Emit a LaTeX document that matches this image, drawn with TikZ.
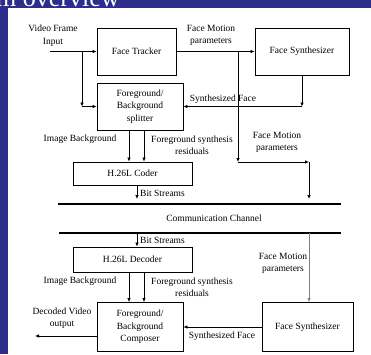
\documentclass[tikz,border=0pt]{standalone}
\usepackage{fontspec}
\setmainfont{Liberation Serif}
\usetikzlibrary{arrows.meta}
\definecolor{slideblue}{RGB}{44,46,140}
\tikzset{
  blk/.style={draw,line width=0.8pt,inner sep=0pt,align=center,font=\fontsize{9.5}{12.5}\selectfont},
  lbl/.style={inner sep=0pt,align=center,font=\fontsize{9.5}{12.5}\selectfont},
  con/.style={->,line width=0.7pt},
}
\begin{document}
\begin{tikzpicture}[x=1pt,y=-1pt,>={Latex[length=4pt,width=3.5pt]}]
	\useasboundingbox (0,0) rectangle (371,354);
	\fill[slideblue] (0,0) rectangle (371,354);
	\fill[white] (8,8) rectangle (371,354);
	\begin{scope}
		\clip (0,0) rectangle (371,8);
		\node[white,font=\fontsize{26}{26}\selectfont,anchor=base west,inner sep=0pt] (title) at (-4,6) {m overview};
	\end{scope}
	% sender side
	\node[blk,minimum width=79pt,minimum height=47pt] (tracker) at (136.5,51.5) {Face Tracker};
	\node[blk,minimum width=94pt,minimum height=47pt] (synthA) at (302,51.5) {Face Synthesizer};
	\node[blk,minimum width=86pt,minimum height=47pt] (splitter) at (140,106.5) {Foreground/\\Background\\splitter};
	\node[blk,minimum width=119pt,minimum height=23pt] (coder) at (132.5,173.5) {H.26L Coder};
	% receiver side
	\node[blk,minimum width=119pt,minimum height=25pt] (decoder) at (132.5,259.5) {H.26L Decoder};
	\node[blk,minimum width=86pt,minimum height=49pt] (composer) at (140,327) {Foreground/\\Background\\Composer};
	\node[blk,minimum width=91pt,minimum height=49pt] (synthB) at (307.5,327) {Face Synthesizer};
	% labels
	\node[lbl] (lvin) at (53,35.5) {Video Frame\\Input};
	\node[lbl] (lfmA) at (211,35.5) {Face Motion\\parameters};
	\node[lbl] (lsfA) at (223,99) {Synthesized Face};
	\node[lbl] (libA) at (80,139) {Image Background};
	\node[lbl] (lfsA) at (192,145) {Foreground synthesis\\residuals};
	\node[lbl] (lfmB) at (277,142.5) {Face Motion\\parameters};
	\node[lbl,anchor=west] (lbsA) at (140,193) {Bit Streams};
	\node[lbl] (lch) at (214,218) {Communication Channel};
	\node[lbl,anchor=west] (lbsB) at (140,240) {Bit Streams};
	\node[lbl] (lfmC) at (283,263.5) {Face Motion\\parameters};
	\node[lbl] (libB) at (80,281) {Image Background};
	\node[lbl] (lfsB) at (192,287) {Foreground synthesis\\residuals};
	\node[lbl] (lvout) at (62,318) {Decoded Video\\output};
	\node[lbl] (lsfB) at (222,336) {Synthesized Face};
	% channel
	\coordinate (chTL) at (58,204); \coordinate (chTR) at (341,204);
	\coordinate (chBL) at (59,233); \coordinate (chBR) at (341,233);
	\draw[line width=1.2pt] (chTL) -- (chTR);
	\draw[line width=2.4pt] (chBL) -- (chBR);
	% helper points
	\coordinate (vin) at (50,51.5);
	\coordinate (tapin) at (82,51.5);
	\coordinate (tapfm) at (238,51.5);
	\coordinate (fmbend) at (238,162);
	\coordinate (fmcorner) at (309,162);
	\coordinate (sfbend) at (302,106.5);
	\coordinate (ibx) at (129,0);
	\coordinate (fsx) at (144,0);
	\coordinate (bsx) at (137,0);
	\coordinate (fmx) at (309,0);
	\coordinate (vout) at (35,336);
	% connectors
	\draw[con] (vin) -- (tracker.west);
	\draw[con] (tapin) -- (tapin |- splitter.west);
	\draw[con] (tapin |- splitter.west) -- (splitter.west);
	\draw[con] (tracker.east) -- (synthA.west);
	\draw[con] (tapfm) -- (fmbend);
	\draw[con] (fmbend) -- (fmcorner);
	\draw[con,shorten >=5pt] (fmcorner) -- (fmcorner |- chTL);
	\draw[con] (synthA.south) -- (sfbend);
	\draw[con] (sfbend) -- (splitter.east);
	\draw[con] (splitter.south -| ibx) -- (coder.north -| ibx);
	\draw[con] (splitter.south -| fsx) -- (coder.north -| fsx);
	\draw[con,shorten >=5pt] (coder.south -| bsx) -- (chTL -| bsx);
	\draw[con] (chBL -| bsx) -- (decoder.north -| bsx);
	\draw[con] (decoder.south -| ibx) -- (composer.north -| ibx);
	\draw[con] (decoder.south -| fsx) -- (composer.north -| fsx);
	\draw[con,gray] (chBL -| fmx) -- (synthB.north -| fmx);
	\draw[con] (synthB.west) -- (composer.east);
	\draw[con] (composer.west |- vout) -- (vout);
\end{tikzpicture}
\end{document}
